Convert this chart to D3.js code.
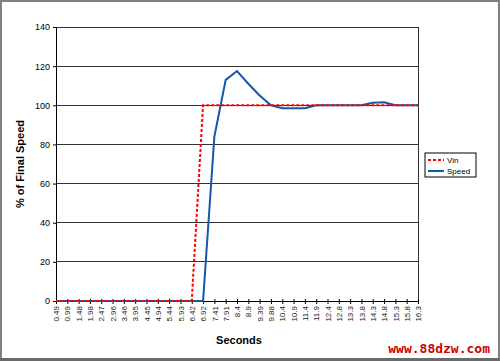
<!DOCTYPE html>
<html><head><meta charset="utf-8">
<script src="https://cdn.jsdelivr.net/npm/d3@7"></script>
<style>body{margin:0;background:#fff}svg{display:block}</style>
</head><body>
<script>
const categories = ["0.49","0.99","1.48","1.98","2.47","2.96","3.46","3.95","4.45","4.94","5.44","5.93","6.42","6.92","7.41","7.91","8.4","8.9","9.39","9.88","10.4","10.9","11.4","11.9","12.4","12.8","13.3","13.8","14.3","14.8","15.3","15.8","16.3"];
const vin = [0,0,0,0,0,0,0,0,0,0,0,0,0,100,100,100,100,100,100,100,100,100,100,100,100,100,100,100,100,100,100,100,100];
const speed = [0,0,0,0,0,0,0,0,0,0,0,0,0,0,84,113,117.5,111,105,100,98.5,98.5,98.5,100,100,100,100,100,101.3,101.5,100,100,100];
const yTicks = [0,20,40,60,80,100,120,140];
const seriesNames = ["Vin","Speed"];

const W=500,H=361;
const svg=d3.select("body").append("svg").attr("width",W).attr("height",H);
svg.append("rect").attr("x",1).attr("y",1).attr("width",W-2).attr("height",H-3).attr("fill","#fff").attr("stroke","#7f7f7f").attr("stroke-width",2);
svg.append("line").attr("x1",0).attr("x2",W).attr("y1",H-1.5).attr("y2",H-1.5).attr("stroke","#6a6a6a").attr("stroke-width",3);

const L=56,R=418,T=27,B=301;
const x=d3.scalePoint().domain(categories).range([L,R]);
const y=d3.scaleLinear().domain([0,140]).range([B,T]);

// gridlines
svg.append("g").selectAll("line").data(yTicks).join("line")
  .attr("x1",L).attr("x2",R).attr("y1",d=>y(d)).attr("y2",d=>y(d))
  .attr("stroke","#333").attr("stroke-width",1).attr("shape-rendering","crispEdges");
svg.append("line").attr("x1",R).attr("x2",R).attr("y1",T).attr("y2",B).attr("stroke","#333").attr("shape-rendering","crispEdges");

// y axis
const ya=svg.append("g").attr("transform",`translate(${L},0)`).call(d3.axisLeft(y).tickValues(yTicks).tickSize(3).tickPadding(3));
ya.select(".domain").attr("stroke","#000");
ya.selectAll("text").attr("font-family","Liberation Sans, Arial, sans-serif").attr("font-size","9px").attr("fill","#000");

// x axis
const xa=svg.append("g").attr("transform",`translate(0,${B})`).call(d3.axisBottom(x).tickSize(3).tickPadding(4));
xa.select(".domain").attr("stroke","#000");
xa.selectAll(".tick line").attr("y1",-2).attr("y2",3).attr("stroke","#000");
xa.selectAll("text").attr("font-family","Liberation Sans, Arial, sans-serif").attr("font-size","8px").attr("fill","#222")
  .attr("transform","rotate(-90)").attr("text-anchor","end").attr("x",-5).attr("y",0).attr("dy","0.33em");

// lines
const line=d3.line().x((d,i)=>x(categories[i])).y(d=>y(d));
svg.append("path").datum(speed).attr("d",line).attr("fill","none").attr("stroke","#1458a8").attr("stroke-width",2);
svg.append("path").datum(vin).attr("d",line).attr("fill","none").attr("stroke","#ff0000").attr("stroke-width",2).attr("stroke-dasharray","3,2");

// titles
svg.append("text").attr("x",239).attr("y",344).attr("text-anchor","middle").attr("font-family","Liberation Sans, Arial, sans-serif").attr("font-weight","bold").attr("font-size","11px").text("Seconds");
svg.append("text").attr("transform","translate(24,164) rotate(-90)").attr("text-anchor","middle").attr("font-family","Liberation Sans, Arial, sans-serif").attr("font-weight","bold").attr("font-size","11px").text("% of Final Speed");

// legend
const lg=svg.append("g").attr("transform","translate(425,153)");
lg.append("rect").attr("width",51).attr("height",24).attr("fill","#fff").attr("stroke","#000");
const cols=["#ff0000","#1458a8"], dashes=["3,2",null];
seriesNames.forEach((n,i)=>{
  const yy=7+i*11;
  lg.append("line").attr("x1",3).attr("x2",19).attr("y1",yy).attr("y2",yy).attr("stroke",cols[i]).attr("stroke-width",2).attr("stroke-dasharray",dashes[i]);
  lg.append("text").attr("x",22).attr("y",yy).attr("dy","0.35em").attr("font-family","Liberation Sans, Arial, sans-serif").attr("font-size","8px").text(n);
});

// watermark
svg.append("text").attr("x",490).attr("y",353).attr("text-anchor","end").attr("font-family","DejaVu Sans Mono, monospace").attr("font-weight","bold").attr("font-size","13px").attr("fill","#d00000").text("www.88dzw.com");
</script>
</body></html>
